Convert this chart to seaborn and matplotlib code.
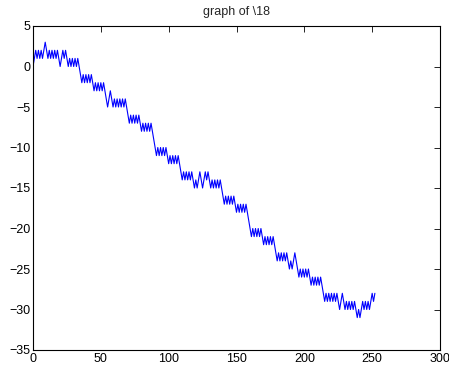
import matplotlib
matplotlib.use("Agg")
import matplotlib.pyplot as plt
import seaborn as sns
import pandas as pd

title_text = "graph of \\18"
x_ticks = [0, 50, 100, 150, 200, 250, 300]
y_ticks = [-35, -30, -25, -20, -15, -10, -5, 0, 5]

values = [
    0, 1, 2, 1, 2, 1, 2, 1, 2, 3,
    2, 1, 2, 1, 2, 1, 2, 1, 2, 1,
    0, 1, 2, 1, 2, 1, 0, 1, 0, 1,
    0, 1, 0, 1, 0, -1, -2, -1, -2, -1,
    -2, -1, -2, -1, -2, -3, -2, -3, -2, -3,
    -2, -3, -2, -3, -4, -5, -4, -3, -4, -5,
    -4, -5, -4, -5, -4, -5, -4, -5, -4, -5,
    -6, -7, -6, -7, -6, -7, -6, -7, -6, -7,
    -8, -7, -8, -7, -8, -7, -8, -7, -8, -9,
    -10, -11, -10, -11, -10, -11, -10, -11, -10, -11,
    -12, -11, -12, -11, -12, -11, -12, -11, -12, -13,
    -14, -13, -14, -13, -14, -13, -14, -13, -14, -15,
    -14, -15, -14, -13, -14, -15, -14, -13, -14, -13,
    -14, -15, -14, -15, -14, -15, -14, -15, -14, -15,
    -16, -17, -16, -17, -16, -17, -16, -17, -16, -17,
    -18, -17, -18, -17, -18, -17, -18, -17, -18, -19,
    -20, -21, -20, -21, -20, -21, -20, -21, -20, -21,
    -22, -21, -22, -21, -22, -21, -22, -21, -22, -23,
    -24, -23, -24, -23, -24, -23, -24, -23, -24, -25,
    -24, -25, -24, -23, -24, -25, -26, -25, -26, -25,
    -26, -25, -26, -25, -26, -27, -26, -27, -26, -27,
    -26, -27, -26, -27, -28, -29, -28, -29, -28, -29,
    -28, -29, -28, -29, -28, -29, -30, -29, -28, -29,
    -30, -29, -30, -29, -30, -29, -30, -29, -30, -31,
    -30, -31, -30, -29, -30, -29, -30, -29, -30, -29,
    -28, -29, -28,
]

df = pd.DataFrame({"x": list(range(len(values))), "y": values})

sns.set_style("white")
plt.rcParams["font.family"] = ["Liberation Sans", "DejaVu Sans"]

fig = plt.figure(figsize=(4.49, 3.68), dpi=100)
ax = fig.add_axes([33 / 449, 1 - 350 / 368, (440 - 33) / 449, (350 - 26) / 368])
sns.lineplot(data=df, x="x", y="y", ax=ax, color="#0000ff", linewidth=0.8)

ax.set_xlim(0, 300)
ax.set_ylim(-35, 5)
ax.set_xticks(x_ticks)
ax.set_yticks(y_ticks)
ax.set_xticklabels([str(t) for t in x_ticks])
ax.set_yticklabels([str(t).replace("-", "\u2212") for t in y_ticks])
ax.set_xlabel("")
ax.set_ylabel("")
ax.set_title(title_text, fontsize=9, pad=8)
ax.tick_params(direction="in", length=4, width=0.6, labelsize=9,
               top=True, right=True, colors="black", pad=2)
for s in ax.spines.values():
    s.set_visible(True)
    s.set_color("black")
    s.set_linewidth(0.8)

fig.savefig("out.png", dpi=100, facecolor="white")
